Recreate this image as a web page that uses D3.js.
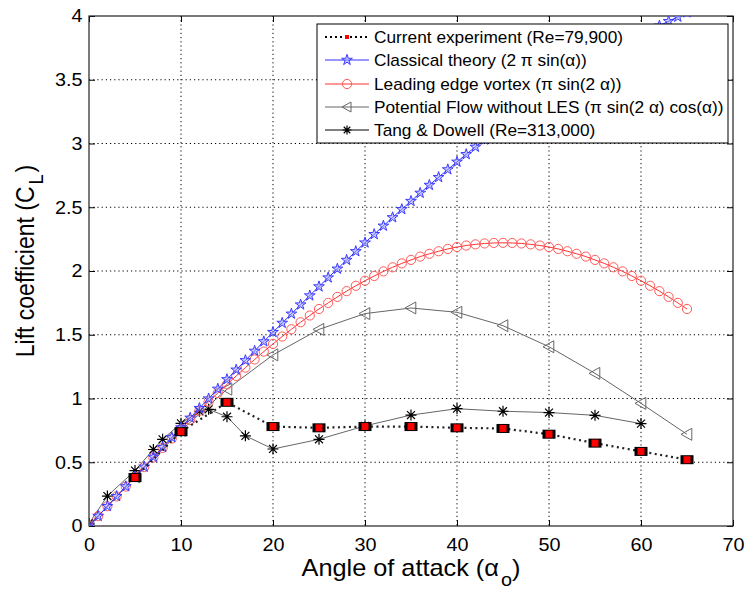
<!DOCTYPE html>
<html>
<head>
<meta charset="utf-8">
<script src="https://d3js.org/d3.v7.min.js"></script>
<style>
  body { margin: 0; background: #fff; }
  svg text { font-family: "Liberation Sans", Arial, sans-serif; }
</style>
</head>
<body>
<div id="chart"></div>
<script>
// ---- data
var xTicks = [0, 10, 20, 30, 40, 50, 60, 70];
var yTicks = [0, 0.5, 1, 1.5, 2, 2.5, 3, 3.5, 4];

// current experiment (Re=79,900)
var expAngle = [5, 10, 15, 20, 25, 30, 35, 40, 45, 50, 55, 60, 65];
var expCL = [0.38, 0.74, 0.97, 0.78, 0.77, 0.78, 0.78, 0.77, 0.765, 0.72, 0.65, 0.585, 0.52];

// classical theory, one marker per degree (0..65)
var classicAngle = d3.range(0, 66);
var classicCL = [0, 0.078, 0.155, 0.233, 0.310, 0.387, 0.464, 0.541, 0.618, 0.695,
  0.772, 0.848, 0.924, 0.999, 1.075, 1.150, 1.225, 1.299, 1.373, 1.447,
  1.520, 1.592, 1.664, 1.736, 1.807, 1.878, 1.948, 2.017, 2.086, 2.154,
  2.222, 2.288, 2.354, 2.420, 2.484, 2.548, 2.612, 2.674, 2.735, 2.796,
  2.856, 2.915, 2.973, 3.030, 3.086, 3.142, 3.196, 3.249, 3.302, 3.353,
  3.404, 3.453, 3.501, 3.548, 3.594, 3.640, 3.683, 3.726, 3.768, 3.808,
  3.848, 3.886, 3.923, 3.959, 3.993, 4.027];

// leading edge vortex, one marker per degree (0..65)
var levAngle = d3.range(0, 66);
var levCL = [0, 0.078, 0.155, 0.232, 0.309, 0.386, 0.462, 0.537, 0.612, 0.686,
  0.760, 0.832, 0.904, 0.974, 1.043, 1.111, 1.177, 1.242, 1.306, 1.368,
  1.428, 1.486, 1.543, 1.598, 1.651, 1.702, 1.750, 1.797, 1.842, 1.884,
  1.924, 1.961, 1.997, 2.029, 2.060, 2.087, 2.113, 2.135, 2.155, 2.173,
  2.188, 2.200, 2.209, 2.216, 2.220, 2.221, 2.220, 2.216, 2.209, 2.200,
  2.188, 2.173, 2.155, 2.135, 2.113, 2.087, 2.060, 2.029, 1.997, 1.961,
  1.924, 1.884, 1.842, 1.797, 1.750, 1.702];

// potential flow without LES
var potAngle = [0, 5, 10, 15, 20, 25, 30, 35, 40, 45, 50, 55, 60, 65];
var potCL = [0, 0.385, 0.748, 1.073, 1.342, 1.542, 1.666, 1.710, 1.676, 1.571, 1.406, 1.197, 0.962, 0.719];

// Tang & Dowell (Re=313,000)
var tangAngle = [0, 2, 5, 7, 8, 10, 12, 13, 15, 17, 20, 25, 30, 35, 40, 45, 50, 55, 60];
var tangCL = [0.02, 0.235, 0.435, 0.60, 0.68, 0.805, 0.90, 0.915, 0.857, 0.707, 0.604, 0.68, 0.785, 0.87, 0.92, 0.90, 0.89, 0.868, 0.803];

var legendLabels = [
  "Current experiment (Re=79,900)",
  "Classical theory (2 \u03c0 sin(\u03b1))",
  "Leading edge vortex (\u03c0 sin(2 \u03b1))",
  "Potential Flow without LES (\u03c0 sin(2 \u03b1) cos(\u03b1))",
  "Tang & Dowell (Re=313,000)"
];

// ---- layout
var W = 746, H = 590;
var pL = 89, pR = 733, pT = 16, pB = 526;
var SX = 1.1; // the picture's text is a bit wider than tall

var svg = d3.select("#chart").append("svg")
  .attr("width", W).attr("height", H);

var x = d3.scaleLinear().domain([0, 70]).range([pL, pR]);
var y = d3.scaleLinear().domain([0, 4]).range([pB, pT]);

// clip for curves that pass the top
svg.append("defs").append("clipPath").attr("id", "plotclip")
  .append("rect").attr("x", pL).attr("y", pT)
  .attr("width", pR - pL).attr("height", pB - pT);

// grid
var grid = svg.append("g");
xTicks.slice(1, -1).forEach(function(t) {
  grid.append("line").attr("x1", x(t)).attr("x2", x(t)).attr("y1", pT).attr("y2", pB)
    .attr("stroke", "#000").attr("stroke-width", 1).attr("stroke-dasharray", "1.2,3");
});
yTicks.slice(1, -1).forEach(function(t) {
  grid.append("line").attr("x1", pL).attr("x2", pR).attr("y1", y(t)).attr("y2", y(t))
    .attr("stroke", "#000").attr("stroke-width", 1).attr("stroke-dasharray", "1.2,3");
});

// axes (ticks inward, labels outside)
var xAxis = d3.axisBottom(x).tickValues(xTicks).tickSizeInner(-6).tickSizeOuter(0).tickPadding(12);
var yAxis = d3.axisLeft(y).tickValues(yTicks).tickSizeInner(-6).tickSizeOuter(0).tickPadding(6)
  .tickFormat(d3.format("~g"));
var gx = svg.append("g").attr("transform", "translate(0," + pB + ")").call(xAxis);
var gy = svg.append("g").attr("transform", "translate(" + pL + ",0)").call(yAxis);
[gx, gy].forEach(function(g) {
  g.select(".domain").remove();
  g.selectAll("line").attr("stroke", "#000");
  g.selectAll("text").attr("font-size", 18).attr("fill", "#000")
    .attr("transform", "scale(" + SX + ",1)")
    .style("font-family", "'Liberation Sans', Arial, sans-serif");
});
// ticks on top and right
svg.append("g").attr("transform", "translate(0," + pT + ")")
  .call(d3.axisTop(x).tickValues(xTicks).tickSizeInner(-6).tickSizeOuter(0).tickFormat(""))
  .call(function(g) { g.select(".domain").remove(); });
svg.append("g").attr("transform", "translate(" + pR + ",0)")
  .call(d3.axisRight(y).tickValues(yTicks).tickSizeInner(-6).tickSizeOuter(0).tickFormat(""))
  .call(function(g) { g.select(".domain").remove(); });

// frame
svg.append("rect").attr("x", pL).attr("y", pT)
  .attr("width", pR - pL).attr("height", pB - pT)
  .attr("fill", "none").attr("stroke", "#222").attr("stroke-width", 1.2);

// ---- series
var plot = svg.append("g").attr("clip-path", "url(#plotclip)");
var line = d3.line().x(function(d) { return x(d[0]); }).y(function(d) { return y(d[1]); });
function pairs(a, b) { return a.map(function(v, i) { return [v, b[i]]; }); }

var tangPts = pairs(tangAngle, tangCL);
var potPts = pairs(potAngle, potCL);
var levPts = pairs(levAngle, levCL);
var classicPts = pairs(classicAngle, classicCL);
var expPts = pairs(expAngle, expCL);

function asterisk(g, cx, cy, r, color) {
  var a = r * 0.72;
  g.append("path")
    .attr("d", "M" + (cx - r) + "," + cy + "H" + (cx + r) +
      "M" + cx + "," + (cy - r) + "V" + (cy + r) +
      "M" + (cx - a) + "," + (cy - a) + "L" + (cx + a) + "," + (cy + a) +
      "M" + (cx - a) + "," + (cy + a) + "L" + (cx + a) + "," + (cy - a))
    .attr("stroke", color).attr("stroke-width", 1.2).attr("fill", "none");
}
function triLeft(g, cx, cy, r, color) {
  g.append("path")
    .attr("d", "M" + (cx - r) + "," + cy + "L" + (cx + r * 0.8) + "," + (cy - r) +
      "L" + (cx + r * 0.8) + "," + (cy + r) + "Z")
    .attr("stroke", color).attr("stroke-width", 1).attr("fill", "none");
}
var starSym = d3.symbol().type(d3.symbolStar).size(36);
function star(g, cx, cy) {
  g.append("path").attr("d", starSym())
    .attr("transform", "translate(" + cx + "," + cy + ")")
    .attr("stroke", "#3b3bff").attr("stroke-width", 1).attr("fill", "#9a9aff").attr("fill-opacity", 0.5);
}
function circ(g, cx, cy) {
  g.append("circle").attr("cx", cx).attr("cy", cy).attr("r", 4.6)
    .attr("stroke", "#ff5a5a").attr("stroke-width", 1).attr("fill", "none");
}
function expMark(g, cx, cy) {
  g.append("rect").attr("x", cx - 6.5).attr("y", cy - 4.5).attr("width", 13).attr("height", 9).attr("fill", "#000");
  g.append("rect").attr("x", cx - 3.5).attr("y", cy - 3.5).attr("width", 7).attr("height", 7).attr("fill", "#f00");
}

// Tang & Dowell
plot.append("path").attr("d", line(tangPts)).attr("fill", "none").attr("stroke", "#666").attr("stroke-width", 1);
tangPts.forEach(function(p) { asterisk(plot, x(p[0]), y(p[1]), 5.5, "#000"); });

// potential flow
plot.append("path").attr("d", line(potPts)).attr("fill", "none").attr("stroke", "#666").attr("stroke-width", 1);
potPts.forEach(function(p) { triLeft(plot, x(p[0]), y(p[1]), 6, "#666"); });

// leading edge vortex
plot.append("path").attr("d", line(levPts)).attr("fill", "none").attr("stroke", "#ff3030").attr("stroke-width", 1);
levPts.forEach(function(p) { circ(plot, x(p[0]), y(p[1])); });

// classical theory
plot.append("path").attr("d", line(classicPts)).attr("fill", "none").attr("stroke", "#3030ff").attr("stroke-width", 1);
classicPts.forEach(function(p) { star(plot, x(p[0]), y(p[1])); });

// experiment
plot.append("path").attr("d", line(expPts)).attr("fill", "none").attr("stroke", "#222")
  .attr("stroke-width", 2.2).attr("stroke-dasharray", "2,3.5");
expPts.forEach(function(p) { expMark(plot, x(p[0]), y(p[1])); });

// ---- axis titles
var xt = svg.append("text").attr("transform", "translate(411,576) scale(" + SX + ",1)")
  .attr("text-anchor", "middle").attr("font-size", 23).attr("fill", "#000");
xt.append("tspan").text("Angle of attack (\u03b1");
xt.append("tspan").attr("dx", 2).attr("dy", 10).attr("font-size", 18).text("o");
xt.append("tspan").attr("dy", -10).text(")");

var yt = svg.append("text")
  .attr("transform", "translate(34,261) rotate(-90) scale(1," + SX + ")")
  .attr("text-anchor", "middle").attr("font-size", 23).attr("fill", "#000");
yt.append("tspan").text("Lift coefficient (C");
yt.append("tspan").attr("dx", 2).attr("dy", 8).attr("font-size", 18).text("L");
yt.append("tspan").attr("dx", 2).attr("dy", -8).text(")");

// ---- legend
var lg = svg.append("g");
lg.append("rect").attr("x", 317).attr("y", 24).attr("width", 411).attr("height", 119)
  .attr("fill", "#fff").attr("stroke", "#000").attr("stroke-width", 1);
var rowY = [37, 60, 84, 107, 130];
var lx1 = 325, lx2 = 369, lm = 347;
legendLabels.forEach(function(t, i) {
  var yy = rowY[i];
  if (i === 0) {
    lg.append("line").attr("x1", lx1).attr("x2", lx2).attr("y1", yy).attr("y2", yy)
      .attr("stroke", "#000").attr("stroke-width", 2).attr("stroke-dasharray", "2,3");
    lg.append("rect").attr("x", lm - 2).attr("y", yy - 2).attr("width", 4).attr("height", 4).attr("fill", "#f00");
  } else {
    var col = ["", "#3030ff", "#ff3030", "#666", "#000"][i];
    lg.append("line").attr("x1", lx1).attr("x2", lx2).attr("y1", yy).attr("y2", yy)
      .attr("stroke", col).attr("stroke-width", 1);
    if (i === 1) star(lg, lm, yy);
    if (i === 2) circ(lg, lm, yy);
    if (i === 3) triLeft(lg, lm, yy, 5, "#666");
    if (i === 4) asterisk(lg, lm, yy, 4.5, "#000");
  }
  lg.append("text").attr("transform", "translate(374," + (yy + 5.5) + ") scale(1.08,1)")
    .attr("font-size", 16).attr("fill", "#000").text(t);
});
</script>
</body>
</html>
